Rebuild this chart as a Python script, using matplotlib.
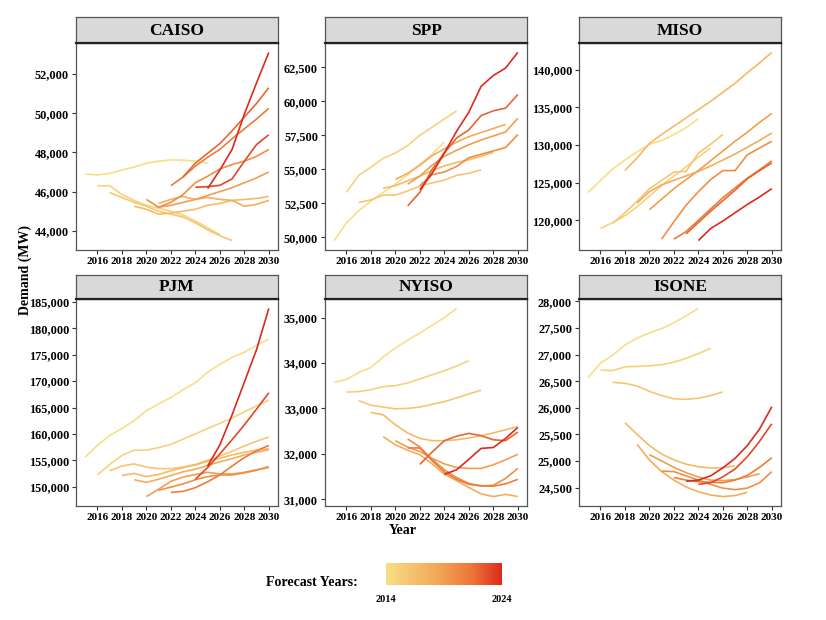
import numpy as np
import matplotlib
matplotlib.use("Agg")
import matplotlib.pyplot as plt
from matplotlib.colors import LinearSegmentedColormap, Normalize
from matplotlib.ticker import MultipleLocator, FuncFormatter

plt.rcParams['font.family'] = ['Liberation Serif', 'DejaVu Serif']
plt.rcParams['font.weight'] = 'bold'

# Forecast data: per region, vintage year, first forecast year, demand values (MW)
CAISO_VINTAGE = [2014, 2015, 2016, 2017, 2018, 2019, 2020, 2021, 2022, 2023, 2024]
CAISO_START = [2015, 2016, 2017, 2019, 2021, 2021, 2020, 2022, 2023, 2024, 2025]
CAISO_DEMAND = [
    [46900, 46850, 46930, 47100, 47250, 47450, 47550, 47620, 47600, 47560, 47450],
    [46300, 46300, 45850, 45550, 45300, 45150, 45000, 44800, 44500, 44150, 43800],
    [45950, 45700, 45450, 45250, 45000, 44850, 44700, 44400, 44050, 43750, 43500],
    [45250, 45100, 44850, 44900, 45000, 45100, 45300, 45400, 45550, 45600, 45650, 45750],
    [45400, 45600, 45750, 45600, 45700, 45600, 45550, 45250, 45350, 45550],
    [45200, 45300, 45450, 45600, 45800, 46000, 46200, 46450, 46700, 47000],
    [45600, 45200, 45450, 45850, 46450, 46780, 47150, 47380, 47550, 47800, 48150],
    [46300, 46750, 47300, 47750, 48150, 48700, 49200, 49700, 50250],
    [46750, 47450, 47950, 48450, 49100, 49800, 50500, 51300],
    [46220, 46250, 46320, 46650, 47550, 48400, 48900],
    [46150, 47100, 48150, 49950, 51550, 53100],
]

SPP_VINTAGE = [2014, 2015, 2016, 2017, 2018, 2019, 2020, 2022, 2024]
SPP_START = [2015, 2016, 2017, 2019, 2020, 2021, 2022, 2021, 2022]
SPP_DEMAND = [
    [49750, 51050, 51950, 52650, 53300, 53900, 54600, 55350, 56100, 57000],
    [53300, 54550, 55150, 55800, 56200, 56750, 57500, 58100, 58700, 59300],
    [52550, 52750, 53100, 53100, 53400, 53750, 54000, 54200, 54550, 54700, 54950],
    [53600, 53800, 54150, 54500, 54900, 55250, 55500, 55700, 55950, 56250],
    [54250, 54700, 55300, 56000, 56500, 57000, 57400, 57700, 58000, 58300],
    [53900, 54500, 55300, 55950, 56400, 56800, 57150, 57450, 57750, 58750],
    [53800, 54600, 54800, 55200, 55850, 56100, 56350, 56600, 57550],
    [52300, 53300, 55000, 56200, 57300, 57900, 58950, 59300, 59500, 60500],
    [53500, 54700, 56200, 57800, 59200, 61100, 61900, 62450, 63600],
]

MISO_VINTAGE = [2014, 2015, 2016, 2017, 2018, 2019, 2020, 2021, 2022, 2024]
MISO_START = [2015, 2016, 2017, 2018, 2019, 2020, 2021, 2022, 2023, 2024]
MISO_DEMAND = [
    [123700, 125300, 126800, 128000, 129100, 130100, 130600, 131400, 132300, 133500],
    [118900, 119700, 120600, 121800, 123200, 124600, 125900, 127100, 128400, 129600],
    [119600, 121000, 122500, 124200, 125300, 126400, 126500, 128900, 130100, 131400],
    [126600, 128300, 130200, 131400, 132500, 133600, 134700, 135800, 137000, 138200, 139600, 140900, 142300],
    [122300, 123800, 124700, 125300, 125900, 126500, 127200, 128000, 128800, 129700, 130600, 131600],
    [121400, 122800, 124200, 125400, 126600, 127900, 129200, 130500, 131700, 133000, 134200],
    [117500, 119800, 122000, 123800, 125400, 126600, 126600, 128700, 129600, 130500],
    [117500, 118500, 120000, 121500, 123000, 124300, 125600, 126700, 127900],
    [118200, 119700, 121200, 122600, 124000, 125500, 126600, 127600],
    [117300, 118900, 119900, 121000, 122100, 123100, 124200],
]

PJM_VINTAGE = [2014, 2015, 2016, 2017, 2018, 2019, 2020, 2021, 2023, 2024]
PJM_START = [2015, 2016, 2017, 2018, 2019, 2020, 2021, 2022, 2024, 2025]
PJM_DEMAND = [
    [155600, 157800, 159700, 161000, 162500, 164400, 165700, 166900, 168400, 169700, 171700, 173200, 174500, 175500, 176800, 178000],
    [152200, 154200, 155900, 156900, 156900, 157400, 158000, 159000, 160000, 161000, 162000, 163000, 164200, 165300, 166400],
    [153000, 153900, 154300, 153700, 153400, 153400, 153700, 154200, 155000, 155800, 156700, 157700, 158600, 159400],
    [152100, 152500, 151900, 152300, 153000, 153600, 154100, 154800, 155400, 156000, 156500, 156900, 157200],
    [151300, 150800, 151400, 152100, 152800, 153300, 154000, 154700, 155300, 156000, 156500, 157000],
    [148100, 149500, 151000, 151800, 152300, 152700, 152400, 152400, 152700, 153200, 153600],
    [149300, 149900, 150500, 151300, 151900, 152200, 152200, 152600, 153100, 153800],
    [148900, 149100, 149800, 150900, 152200, 153900, 155500, 156800, 157800],
    [151400, 153600, 156200, 158900, 161700, 164700, 167800],
    [153900, 157900, 163600, 169800, 176000, 183800],
]

NYISO_VINTAGE = [2014, 2015, 2016, 2017, 2018, 2019, 2020, 2021, 2022, 2024]
NYISO_START = [2015, 2016, 2017, 2018, 2019, 2020, 2021, 2021, 2022, 2024]
NYISO_DEMAND = [
    [33570, 33640, 33790, 33900, 34130, 34330, 34500, 34660, 34830, 35000, 35200],
    [33360, 33370, 33410, 33480, 33500, 33560, 33650, 33740, 33830, 33930, 34050],
    [33170, 33070, 33030, 32990, 33000, 33030, 33090, 33150, 33230, 33320, 33400],
    [32910, 32860, 32640, 32460, 32340, 32290, 32290, 32310, 32350, 32400, 32460, 32530, 32600],
    [32380, 32200, 32080, 31980, 31780, 31550, 31410, 31260, 31120, 31060, 31110, 31060],
    [32290, 32150, 32050, 31900, 31780, 31700, 31680, 31680, 31760, 31870, 31990],
    [32330, 32150, 31880, 31650, 31480, 31350, 31290, 31310, 31460, 31680],
    [32130, 32130, 31850, 31600, 31440, 31330, 31300, 31290, 31340, 31440],
    [31770, 32040, 32290, 32390, 32450, 32400, 32310, 32290, 32480],
    [31550, 31650, 31880, 32120, 32140, 32340, 32580],
]

ISONE_VINTAGE = [2014, 2015, 2016, 2017, 2018, 2019, 2020, 2021, 2023, 2024]
ISONE_START = [2015, 2016, 2017, 2018, 2019, 2020, 2021, 2022, 2024, 2023]
ISONE_DEMAND = [
    [26570, 26840, 26990, 27180, 27310, 27410, 27490, 27600, 27730, 27870],
    [26710, 26700, 26770, 26780, 26790, 26810, 26860, 26930, 27020, 27120],
    [26480, 26460, 26410, 26310, 26230, 26170, 26160, 26180, 26230, 26300],
    [25720, 25500, 25290, 25130, 25020, 24940, 24890, 24870, 24870, 24910],
    [25310, 25020, 24800, 24640, 24510, 24420, 24360, 24330, 24350, 24410],
    [25120, 25000, 24880, 24780, 24700, 24640, 24630, 24650, 24700, 24760],
    [24810, 24800, 24720, 24640, 24560, 24490, 24460, 24490, 24590, 24800],
    [24690, 24640, 24610, 24600, 24590, 24640, 24730, 24880, 25060],
    [24560, 24590, 24700, 24850, 25080, 25370, 25700],
    [24620, 24640, 24720, 24870, 25050, 25290, 25600, 26020],
]

REGIONS = ["CAISO", "SPP", "MISO", "PJM", "NYISO", "ISONE"]
PANELS = [
    (CAISO_VINTAGE, CAISO_START, CAISO_DEMAND, 2000),
    (SPP_VINTAGE, SPP_START, SPP_DEMAND, 2500),
    (MISO_VINTAGE, MISO_START, MISO_DEMAND, 5000),
    (PJM_VINTAGE, PJM_START, PJM_DEMAND, 5000),
    (NYISO_VINTAGE, NYISO_START, NYISO_DEMAND, 1000),
    (ISONE_VINTAGE, ISONE_START, ISONE_DEMAND, 500),
]

cmap = LinearSegmentedColormap.from_list(
    "forecast", [(0.0, "#F8DE88"), (0.45, "#F3A756"), (0.75, "#EC7436"), (1.0, "#DC2A1C")])
norm = Normalize(2014, 2024)

W, H = 826, 620
fig = plt.figure(figsize=(W / 100, H / 100), dpi=100, facecolor='white')

col_x = [(76, 278), (325, 527), (579, 781)]
row_y = [(17, 43, 250), (275, 299, 506)]  # strip top, plot top, plot bottom


def px_axes(x0, y0, x1, y1):
    return fig.add_axes([x0 / W, 1 - y1 / H, (x1 - x0) / W, (y1 - y0) / H])


comma = FuncFormatter(lambda v, p: f"{int(v):,}")

for i, (name, (vint, start, demand, step)) in enumerate(zip(REGIONS, PANELS)):
    r, c = divmod(i, 3)
    x0, x1 = col_x[c]
    st, pt, pb = row_y[r]
    ax = px_axes(x0, pt, x1, pb)
    for v, s, vals in zip(vint, start, demand):
        yrs = np.arange(s, s + len(vals))
        ax.plot(yrs, vals, color=cmap(norm(v)), lw=1.2, solid_capstyle='butt')
    ax.set_xlim(2014.25, 2030.75)
    ax.margins(y=0.05)
    ax.yaxis.set_major_locator(MultipleLocator(step))
    ax.yaxis.set_major_formatter(comma)
    ax.set_xticks(range(2016, 2031, 2))
    ax.tick_params(length=3, width=0.8, color='#333333', pad=2)
    ax.tick_params(axis='x', labelsize=8)
    ax.tick_params(axis='y', labelsize=8.8)
    for lab in ax.get_xticklabels() + ax.get_yticklabels():
        lab.set_fontweight('bold')
    for sp in ax.spines.values():
        sp.set_color('#555555')
        sp.set_linewidth(0.9)

    sax = px_axes(x0, st, x1, pt)
    sax.set_facecolor('#D9D9D9')
    sax.set_xticks([])
    sax.set_yticks([])
    for sp in sax.spines.values():
        sp.set_color('#555555')
        sp.set_linewidth(0.9)
    sax.spines['bottom'].set_color('#222222')
    sax.spines['bottom'].set_linewidth(1.6)
    sax.text(0.5, 0.48, name, ha='center', va='center', fontsize=12.5,
             fontweight='bold', transform=sax.transAxes)

fig.text(25 / W, 1 - 270 / H, "Demand (MW)", rotation=90, ha='center', va='center',
         fontsize=10, fontweight='bold')
fig.text(403 / W, 1 - 530 / H, "Year", ha='center', va='center', fontsize=10, fontweight='bold')

# colour legend
cax = px_axes(386, 563, 502, 585)
grad = np.linspace(0, 1, 256).reshape(1, -1)
cax.imshow(grad, aspect='auto', cmap=cmap, extent=[2014, 2024, 0, 1])
cax.set_axis_off()
fig.text(358 / W, 1 - 582 / H, "Forecast Years:", ha='right', va='center',
         fontsize=10, fontweight='bold')
fig.text(386 / W, 1 - 600 / H, "2014", ha='center', va='center', fontsize=7.5, fontweight='bold')
fig.text(502 / W, 1 - 600 / H, "2024", ha='center', va='center', fontsize=7.5, fontweight='bold')

fig.savefig("out.png", dpi=100, facecolor='white')
